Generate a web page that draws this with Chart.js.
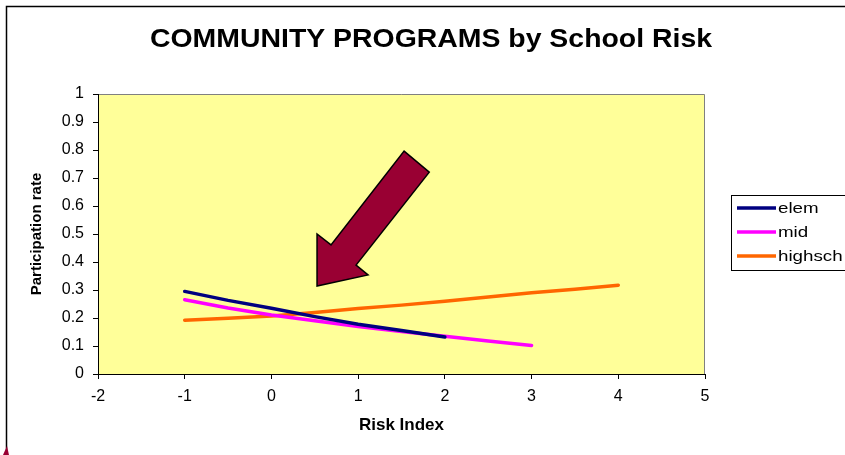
<!DOCTYPE html>
<html>
<head>
<meta charset="utf-8">
<script src="https://cdn.jsdelivr.net/npm/chart.js@4"></script>
<style>
html,body{margin:0;padding:0;background:#fff;}
#wrap{width:845px;height:455px;position:relative;}
</style>
</head>
<body>
<div id="wrap"><canvas id="c" width="845" height="455"></canvas></div>
<script>
const seriesNames = ['elem', 'mid', 'highsch'];
const elemX = [-1, -0.5, 0, 0.5, 1, 1.5, 2];
const elemY = [0.295, 0.263, 0.235, 0.205, 0.178, 0.155, 0.132];
const midX = [-1, -0.5, 0, 0.5, 1, 1.5, 2, 2.5, 3];
const midY = [0.265, 0.236, 0.211, 0.19, 0.17, 0.152, 0.135, 0.118, 0.102];
const highX = [-1, -0.5, 0, 0.5, 1, 1.5, 2, 2.5, 3, 3.5, 4];
const highY = [0.192, 0.199, 0.207, 0.22, 0.234, 0.246, 0.26, 0.275, 0.29, 0.303, 0.317];
const xTicks = [-2, -1, 0, 1, 2, 3, 4, 5];
const yTicks = [0, 0.1, 0.2, 0.3, 0.4, 0.5, 0.6, 0.7, 0.8, 0.9, 1];
// arrow annotation outline in data coordinates
const arrowX = [1.53, 1.82, 0.976, 1.114, 0.526, 0.526, 0.687];
const arrowY = [0.796, 0.721, 0.389, 0.354, 0.314, 0.5, 0.461];

const colors = ['#000080', '#FF00FF', '#FF6600'];
function pts(xs, ys) { return xs.map((x, i) => ({x: x, y: ys[i]})); }

const FONT = 'Liberation Sans, Arial, sans-serif';

function stretchedText(ctx, text, x, y, sx, align) {
  ctx.save();
  ctx.translate(x, y);
  ctx.scale(sx, 1);
  ctx.textAlign = align;
  ctx.fillText(text, 0, 0);
  ctx.restore();
}

const framePlugin = {
  id: 'frame',
  beforeDraw(chart) {
    const ctx = chart.ctx, a = chart.chartArea;
    ctx.save();
    ctx.fillStyle = '#fff';
    ctx.fillRect(0, 0, chart.width, chart.height);
    ctx.strokeStyle = '#000';
    ctx.lineWidth = 1.5;
    ctx.strokeRect(6.5, 6.5, chart.width + 20, chart.height + 20);
    ctx.fillStyle = '#FFFF99';
    ctx.fillRect(a.left, a.top, a.right - a.left, a.bottom - a.top);
    ctx.strokeStyle = '#808080';
    ctx.lineWidth = 1;
    ctx.beginPath();
    ctx.moveTo(a.left, a.top + 0.5);
    ctx.lineTo(a.right - 0.5, a.top + 0.5);
    ctx.lineTo(a.right - 0.5, a.bottom);
    ctx.stroke();
    // small piece of an outside shape at bottom-left corner
    ctx.fillStyle = '#990033';
    ctx.beginPath();
    ctx.moveTo(3, 455); ctx.lineTo(7, 446); ctx.lineTo(9, 455); ctx.closePath();
    ctx.fill();
    ctx.restore();
  },
  afterDraw(chart) {
    const ctx = chart.ctx, xs = chart.scales.x, ys = chart.scales.y;
    ctx.save();
    // title
    ctx.fillStyle = '#000';
    ctx.font = 'bold 26px ' + FONT;
    ctx.textBaseline = 'middle';
    const t = 'COMMUNITY PROGRAMS by School Risk';
    const tw = ctx.measureText(t).width;
    stretchedText(ctx, t, 431, 40, 562 / tw, 'center');
    // arrow
    ctx.beginPath();
    arrowX.forEach((x, i) => {
      const px = xs.getPixelForValue(x), py = ys.getPixelForValue(arrowY[i]);
      if (i === 0) ctx.moveTo(px, py); else ctx.lineTo(px, py);
    });
    ctx.closePath();
    ctx.fillStyle = '#990033';
    ctx.fill();
    ctx.strokeStyle = '#000';
    ctx.lineWidth = 1.5;
    ctx.stroke();
    // legend
    ctx.fillStyle = '#fff';
    ctx.fillRect(731, 195, 130, 75);
    ctx.strokeStyle = '#000';
    ctx.lineWidth = 1;
    ctx.strokeRect(731.5, 195.5, 130, 75);
    ctx.font = '15px ' + FONT;
    ctx.textBaseline = 'middle';
    const rows = [208, 232, 256];
    chart.data.datasets.forEach((ds, i) => {
      ctx.strokeStyle = ds.borderColor;
      ctx.lineWidth = 3.5;
      ctx.beginPath();
      ctx.moveTo(737, rows[i]);
      ctx.lineTo(776, rows[i]);
      ctx.stroke();
      ctx.fillStyle = '#000';
      stretchedText(ctx, ds.label, 778, rows[i] + 1, 1.25, 'left');
    });
    ctx.restore();
  }
};

new Chart(document.getElementById('c'), {
  type: 'line',
  data: {
    datasets: [
      {label: seriesNames[0], data: pts(elemX, elemY), borderColor: colors[0]},
      {label: seriesNames[1], data: pts(midX, midY), borderColor: colors[1]},
      {label: seriesNames[2], data: pts(highX, highY), borderColor: colors[2]}
    ].map(d => Object.assign(d, {borderWidth: 3.5, pointRadius: 0, tension: 0, fill: false, borderCapStyle: 'round'}))
  },
  options: {
    responsive: false,
    animation: false,
    devicePixelRatio: 1,
    layout: {padding: {top: 94, left: 0, right: 140, bottom: 0}},
    plugins: {legend: {display: false}, title: {display: false}, tooltip: {enabled: false}},
    scales: {
      x: {
        type: 'linear', min: -2, max: 5,
        afterFit(s) { s.height = 81; },
        afterBuildTicks(s) { s.ticks = xTicks.map(v => ({value: v})); },
        grid: {drawOnChartArea: false, drawTicks: true, tickLength: 5, color: '#000'},
        border: {display: true, color: '#000', width: 1},
        ticks: {color: '#000', font: {family: FONT, size: 16}, padding: 8, maxRotation: 0, callback: v => String(v)},
        title: {display: true, text: 'Risk Index', color: '#000', font: {family: FONT, size: 17, weight: 'bold'}, padding: {top: 0, bottom: 19}}
      },
      y: {
        type: 'linear', min: 0, max: 1,
        afterFit(s) { s.width = 98; },
        afterBuildTicks(s) { s.ticks = yTicks.map(v => ({value: v})); },
        grid: {drawOnChartArea: false, drawTicks: true, tickLength: 5, color: '#000'},
        border: {display: true, color: '#000', width: 1},
        ticks: {color: '#000', font: {family: FONT, size: 16}, padding: 9, callback: v => String(Number(v.toFixed(1)))},
        title: {display: true, text: 'Participation rate', color: '#000', font: {family: FONT, size: 15, weight: 'bold'}, padding: {top: 28, bottom: 0}}
      }
    }
  },
  plugins: [framePlugin]
});
</script>
</body>
</html>
